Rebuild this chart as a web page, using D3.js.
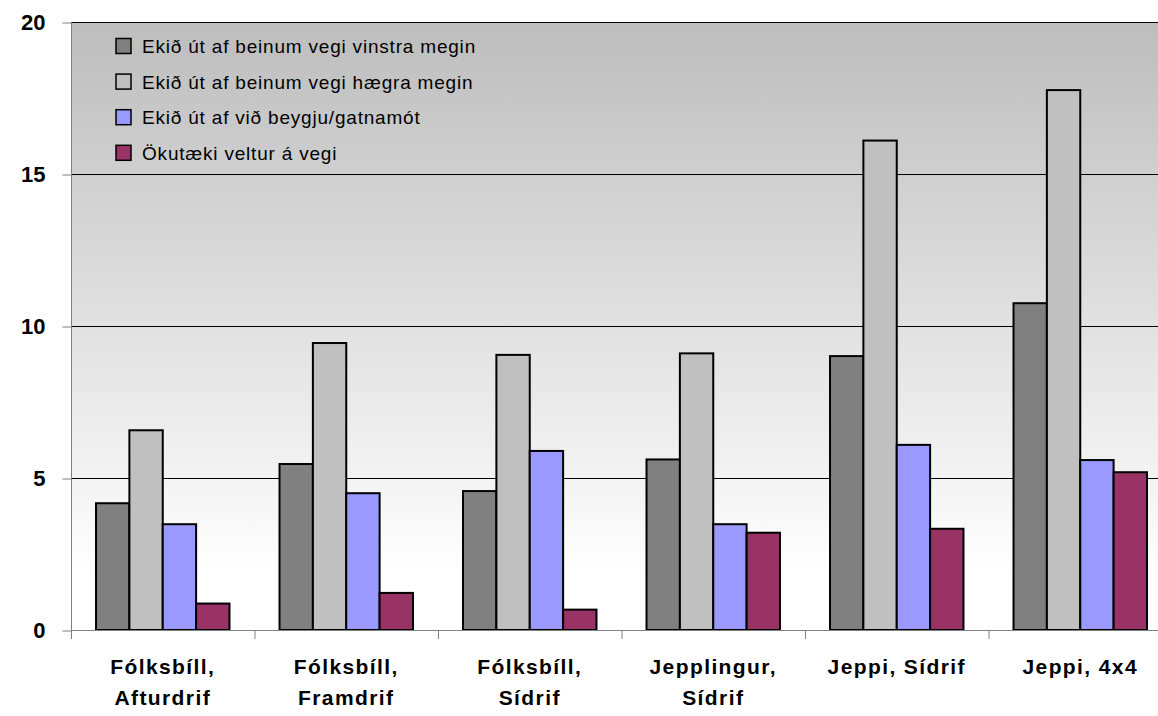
<!DOCTYPE html>
<meta charset="utf-8">
<style>
    body { margin: 0; background: #fff; }
    svg { display: block; font-family: Arial, "Liberation Sans", sans-serif; }
    .bar { stroke: #000; stroke-width: 2px; }
    .grid line { stroke: #000; stroke-width: 1px; }
    .ylab { font-weight: bold; font-size: 22px; }
    .xlab { font-weight: bold; font-size: 21px; letter-spacing: 1.4px; }
    .leg text { font-size: 19px; letter-spacing: 0.8px; }
</style>
<svg width="1158" height="716"></svg>
<script src="https://cdn.jsdelivr.net/npm/d3@7"></script>
<script>

    // categories (two-line labels)
    var categories = ["Fólksbíll, Afturdrif", "Fólksbíll, Framdrif", "Fólksbíll, Sídrif",
        "Jepplingur, Sídrif", "Jeppi, Sídrif", "Jeppi, 4x4"];
    var catLines = [["Fólksbíll,", "Afturdrif"], ["Fólksbíll,", "Framdrif"], ["Fólksbíll,", "Sídrif"],
        ["Jepplingur,", "Sídrif"], ["Jeppi, Sídrif"], ["Jeppi, 4x4"]];

    var seriesNames = ["Ekið út af beinum vegi vinstra megin", "Ekið út af beinum vegi hægra megin",
        "Ekið út af við beygju/gatnamót", "Ökutæki veltur á vegi"];
    var seriesColors = ["#808080", "#c0c0c0", "#9999ff", "#993366"];

    // values
    var vinstra = [4.17, 5.46, 4.57, 5.61, 9.01, 10.75];
    var haegra = [6.57, 9.44, 9.05, 9.10, 16.1, 17.76];
    var beygja = [3.48, 4.50, 5.89, 3.48, 6.09, 5.59];
    var veltur = [0.87, 1.22, 0.67, 3.20, 3.33, 5.19];
    var allSeries = [vinstra, haegra, beygja, veltur];

    var yTicks = [0, 5, 10, 15, 20];

    var svg = d3.select("svg");
    var pLeft = 71, pRight = 1172, pTop = 22, pBottom = 630;

    var x0 = d3.scaleBand().domain(categories).range([pLeft, pRight]);
    var bw = x0.bandwidth();
    var gap = bw * 0.75 / 5.5;   // Excel gap width 150%
    var x1 = d3.scaleBand().domain(d3.range(4)).range([gap, bw - gap]);
    var y = d3.scaleLinear().domain([0, 20]).range([pBottom, pTop]);

    // background gradient
    var grad = svg.append("defs").append("linearGradient")
            .attr("id", "bg").attr("x1", 0).attr("y1", 0).attr("x2", 0).attr("y2", 1);
    grad.append("stop").attr("offset", "0%").attr("stop-color", "#bdbdbd");
    grad.append("stop").attr("offset", "91%").attr("stop-color", "#ffffff");
    grad.append("stop").attr("offset", "100%").attr("stop-color", "#ffffff");

    svg.append("rect")
            .attr("x", pLeft).attr("y", pTop)
            .attr("width", pRight - pLeft).attr("height", pBottom - pTop)
            .attr("fill", "url(#bg)");

    // gridlines
    svg.append("g").attr("class", "grid")
            .selectAll("line").data(yTicks.filter(function (d) { return d > 0; }))
            .enter().append("line")
            .attr("x1", pLeft).attr("x2", pRight)
            .attr("y1", function (d) { return y(d) + 0.5; })
            .attr("y2", function (d) { return y(d) + 0.5; });

    // y axis
    var yAxis = svg.append("g")
            .attr("transform", "translate(" + (pLeft + 0.5) + ",0.5)")
            .call(d3.axisLeft(y).tickValues(yTicks).tickSize(9).tickPadding(17));
    yAxis.select(".domain").attr("stroke", "#808080").attr("d", "M0," + y(0) + "V" + y(20));
    yAxis.selectAll(".tick line").attr("stroke", "#808080");
    yAxis.selectAll(".tick text").attr("class", "ylab").attr("fill", "#000")
            .style("font-family", "Arial, 'Liberation Sans', sans-serif");

    // bars
    var groups = svg.append("g").selectAll("g").data(categories).enter().append("g")
            .attr("transform", function (d) { return "translate(" + x0(d) + ",0)"; });

    groups.selectAll("rect")
            .data(function (d, i) { return allSeries.map(function (s, k) { return {k: k, v: s[i]}; }); })
            .enter().append("rect")
            .attr("class", "bar")
            .attr("x", function (d) { return x1(d.k); })
            .attr("width", x1.bandwidth())
            .attr("y", function (d) { return y(d.v); })
            .attr("height", function (d) { return y(0) - y(d.v); })
            .attr("fill", function (d) { return seriesColors[d.k]; });

    // x axis
    var xAxis = svg.append("g");
    xAxis.append("line")
            .attr("x1", pLeft).attr("x2", pRight)
            .attr("y1", pBottom + 0.5).attr("y2", pBottom + 0.5)
            .attr("stroke", "#808080");
    xAxis.selectAll(".xt").data(categories.concat(["end"])).enter().append("line")
            .attr("x1", function (d, i) { return pLeft + i * bw + 0.5; })
            .attr("x2", function (d, i) { return pLeft + i * bw + 0.5; })
            .attr("y1", pBottom).attr("y2", pBottom + 9)
            .attr("stroke", "#808080");

    categories.forEach(function (c, i) {
        var t = xAxis.append("text").attr("class", "xlab")
                .attr("x", x0(c) + bw / 2).attr("y", 674)
                .attr("text-anchor", "middle");
        catLines[i].forEach(function (ln, j) {
            t.append("tspan").attr("x", x0(c) + bw / 2).attr("dy", j === 0 ? 0 : 31).text(ln);
        });
    });

    // legend
    var leg = svg.append("g").attr("class", "leg");
    seriesNames.forEach(function (name, i) {
        var cy = 46 + i * 35.6;
        leg.append("rect")
                .attr("x", 116).attr("y", cy - 7.5)
                .attr("width", 15).attr("height", 15)
                .attr("fill", seriesColors[i])
                .attr("stroke", "#000").attr("stroke-width", 1.5);
        leg.append("text")
                .attr("x", 142).attr("y", cy + 7)
                .text(name);
    });

</script>
